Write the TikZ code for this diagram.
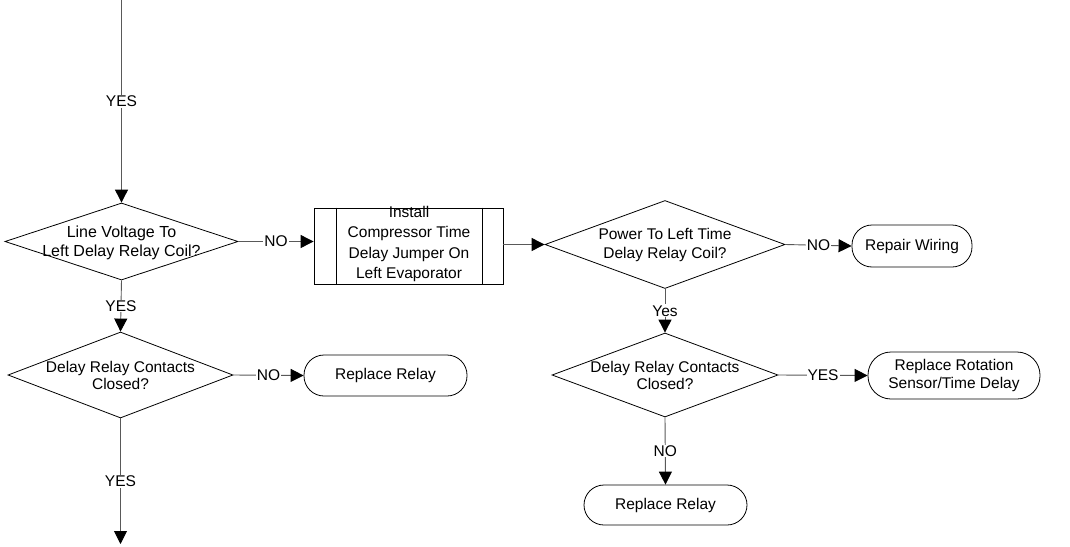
\documentclass[tikz,border=0pt]{standalone}
\usepackage{fontspec}
\setmainfont{Liberation Sans}
\usetikzlibrary{arrows.meta,shapes.geometric}
\begin{document}
\begin{tikzpicture}[x=1pt,y=-1pt,
  every node/.style={font=\fontsize{15.5}{19}\selectfont, text=black},
  dec/.style={draw=black, line width=0.8pt, diamond, inner sep=0pt, minimum width=#1},
  term/.style={draw=black, line width=0.8pt, rectangle, rounded corners=20pt, align=center, inner sep=0pt},
  proc/.style={draw=black, line width=0.8pt, rectangle, inner sep=0pt},
  conn/.style={draw=black!65, line width=0.9pt, -{Triangle[length=13pt,width=13pt,color=black]}},
  lab/.style={fill=white, inner sep=1pt},
  dtext/.style={align=center, inner sep=0pt},
]
\useasboundingbox (0,0) rectangle (1070,546);

% decisions
\node[dec=233pt, minimum height=77pt] (d1) at (121.5,241.5) {};
\node[dtext, font=\fontsize{16}{19}\selectfont] (t1) at (121.5,242.5) {Line Voltage To\\Left Delay Relay Coil?};

\node[dec=240pt, minimum height=88pt] (d2) at (665,244.5) {};
\node[dtext] (t2) at (665,245) {Power To Left Time\\Delay Relay Coil?};

\node[dec=226pt, minimum height=84pt] (d3) at (665,375) {};
\node[dtext, font=\fontsize{15.5}{17}\selectfont] (t3) at (665,375) {Delay Relay Contacts\\Closed?};

\node[dec=225pt, minimum height=86pt] (d4) at (120.5,375) {};
\node[dtext, font=\fontsize{15.5}{17}\selectfont] (t4) at (120.5,375) {Delay Relay Contacts\\Closed?};

% process
\node[proc, minimum width=189pt, minimum height=76pt] (p) at (408.5,246) {};
\draw[line width=0.8pt] ([xshift=23pt]p.north west) -- ([xshift=23pt]p.south west);
\draw[line width=0.8pt] ([xshift=-21pt]p.north east) -- ([xshift=-21pt]p.south east);
\node[dtext, font=\fontsize{15.5}{20.5}\selectfont] (pt) at (409,244) {Install\\Compressor Time\\Delay Jumper On\\Left Evaporator};

% terminals
\node[term, minimum width=120pt, minimum height=42pt] (rw) at (912,246) {Repair Wiring};
\node[term, minimum width=163pt, minimum height=41pt] (rr1) at (385.5,375.5) {Replace Relay};
\node[term, minimum width=172pt, minimum height=47pt, rounded corners=23pt, font=\fontsize{15.5}{18}\selectfont] (rot) at (954,375.5) {Replace Rotation\\Sensor/Time Delay};
\node[term, minimum width=163pt, minimum height=40pt] (rr2) at (665.5,505) {Replace Relay};

% free ends
\coordinate (top) at (121.5,0);
\coordinate (bot) at (120.5,544);

% connectors
\draw[conn] (top) -- node[lab, pos=0.5] {YES} (d1.north);
\draw[conn] (d1.east) -- node[lab] {NO} (p.west |- d1.east);
\draw[conn] (d1.south) -- node[lab] {YES} (d4.north);
\draw[conn] (p.east |- d2.west) -- (d2.west);
\draw[conn] (d2.east) -- node[lab] {NO} (rw.west);
\draw[conn] (d2.south) -- node[lab, pos=0.5] {Yes} (d3.north);
\draw[conn] (d3.east) -- node[lab] {YES} (rot.west);
\draw[conn] (d3.south) -- node[lab, pos=0.5] {NO} (rr2.north);
\draw[conn] (d4.east) -- node[lab] {NO} (rr1.west);
\draw[conn] (d4.south) -- node[lab, pos=0.5] {YES} (bot);
\end{tikzpicture}
\end{document}
